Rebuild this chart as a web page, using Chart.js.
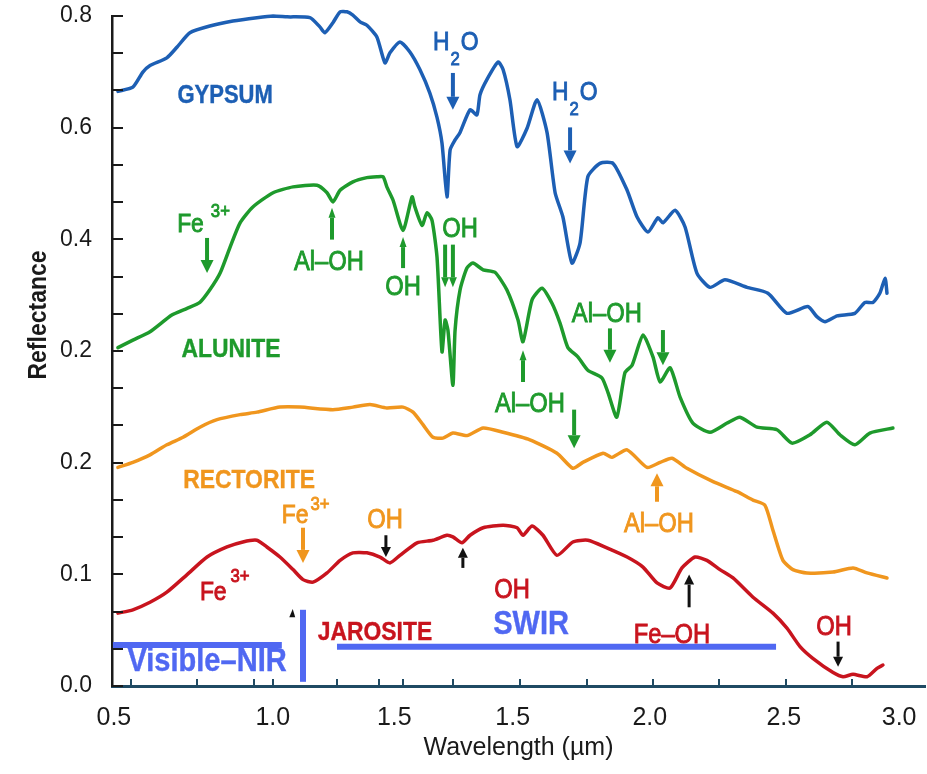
<!DOCTYPE html>
<html>
<head>
<meta charset="utf-8">
<script src="https://cdn.jsdelivr.net/npm/chart.js@4.4.1/dist/chart.umd.min.js"></script>
<style>
  body { margin: 0; background: #fff; }
  canvas { display: block; }
</style>
</head>
<body>
<canvas id="spectra" width="927" height="774"></canvas>
<script>
const gypsum = [[0.503,0.710],[0.551,0.715],[0.583,0.733],[0.606,0.741],[0.660,0.750],[0.693,0.763],[0.734,0.780],[0.798,0.788],[0.872,0.794],[0.949,0.798],[1.001,0.800],[1.046,0.799],[1.119,0.798],[1.151,0.787],[1.167,0.780],[1.193,0.792],[1.216,0.805],[1.238,0.805],[1.257,0.801],[1.280,0.793],[1.302,0.789],[1.334,0.775],[1.360,0.744],[1.376,0.756],[1.408,0.769],[1.440,0.757],[1.472,0.736],[1.504,0.708],[1.527,0.679],[1.543,0.648],[1.559,0.584],[1.569,0.640],[1.585,0.652],[1.601,0.661],[1.633,0.688],[1.655,0.682],[1.665,0.706],[1.687,0.724],[1.723,0.745],[1.739,0.736],[1.761,0.700],[1.784,0.644],[1.816,0.666],[1.848,0.700],[1.880,0.661],[1.906,0.589],[1.931,0.560],[1.960,0.505],[1.986,0.529],[2.011,0.608],[2.050,0.624],[2.092,0.624],[2.137,0.592],[2.169,0.560],[2.204,0.542],[2.236,0.559],[2.252,0.553],[2.291,0.568],[2.323,0.548],[2.361,0.493],[2.403,0.476],[2.451,0.485],[2.522,0.476],[2.589,0.469],[2.650,0.445],[2.717,0.453],[2.746,0.441],[2.772,0.435],[2.811,0.442],[2.868,0.445],[2.900,0.458],[2.926,0.458],[2.948,0.469],[2.965,0.487],[2.971,0.469]];

const alunite = [[0.503,0.404],[0.551,0.413],[0.606,0.423],[0.676,0.443],[0.725,0.451],[0.766,0.458],[0.798,0.473],[0.831,0.493],[0.863,0.524],[0.895,0.553],[0.936,0.572],[1.001,0.589],[1.065,0.596],[1.142,0.598],[1.174,0.589],[1.193,0.578],[1.216,0.592],[1.257,0.602],[1.302,0.607],[1.334,0.608],[1.354,0.608],[1.366,0.596],[1.386,0.580],[1.418,0.544],[1.447,0.584],[1.456,0.572],[1.479,0.550],[1.495,0.565],[1.511,0.556],[1.527,0.512],[1.543,0.399],[1.553,0.437],[1.562,0.425],[1.578,0.359],[1.585,0.425],[1.601,0.473],[1.623,0.499],[1.642,0.505],[1.675,0.497],[1.713,0.494],[1.751,0.473],[1.787,0.437],[1.803,0.411],[1.832,0.461],[1.864,0.475],[1.896,0.457],[1.922,0.433],[1.947,0.404],[1.979,0.393],[2.011,0.377],[2.056,0.368],[2.076,0.350],[2.104,0.321],[2.130,0.374],[2.153,0.383],[2.188,0.419],[2.220,0.393],[2.243,0.363],[2.275,0.380],[2.307,0.345],[2.348,0.314],[2.403,0.303],[2.458,0.314],[2.499,0.321],[2.554,0.309],[2.618,0.306],[2.666,0.290],[2.724,0.300],[2.778,0.315],[2.820,0.300],[2.868,0.288],[2.916,0.302],[2.990,0.308]];

const rectorite = [[0.503,0.261],[0.551,0.267],[0.606,0.276],[0.660,0.288],[0.712,0.297],[0.766,0.309],[0.821,0.318],[0.895,0.324],[0.949,0.327],[1.023,0.333],[1.087,0.333],[1.193,0.330],[1.257,0.333],[1.312,0.336],[1.366,0.332],[1.418,0.333],[1.450,0.327],[1.482,0.312],[1.514,0.297],[1.546,0.296],[1.578,0.302],[1.623,0.299],[1.675,0.308],[1.739,0.303],[1.825,0.294],[1.912,0.278],[1.963,0.260],[1.995,0.267],[2.060,0.278],[2.088,0.273],[2.137,0.282],[2.201,0.261],[2.243,0.267],[2.281,0.272],[2.329,0.260],[2.413,0.244],[2.490,0.232],[2.541,0.222],[2.579,0.216],[2.605,0.186],[2.637,0.150],[2.669,0.139],[2.714,0.135],[2.798,0.136],[2.862,0.141],[2.907,0.135],[2.971,0.129]];

const jarosite = [[0.503,0.087],[0.551,0.091],[0.606,0.100],[0.660,0.112],[0.725,0.133],[0.789,0.154],[0.853,0.166],[0.904,0.172],[0.949,0.174],[0.981,0.166],[1.023,0.154],[1.065,0.139],[1.097,0.127],[1.129,0.124],[1.174,0.135],[1.216,0.150],[1.257,0.159],[1.302,0.159],[1.344,0.154],[1.376,0.147],[1.408,0.156],[1.463,0.171],[1.514,0.174],[1.559,0.180],[1.578,0.178],[1.607,0.171],[1.633,0.180],[1.675,0.189],[1.739,0.192],[1.784,0.189],[1.803,0.180],[1.832,0.191],[1.867,0.180],[1.912,0.156],[1.963,0.172],[2.011,0.174],[2.072,0.165],[2.137,0.154],[2.188,0.142],[2.233,0.123],[2.275,0.117],[2.313,0.141],[2.355,0.154],[2.393,0.150],[2.435,0.139],[2.477,0.129],[2.541,0.106],[2.605,0.087],[2.650,0.069],[2.692,0.047],[2.733,0.033],[2.798,0.016],[2.830,0.011],[2.862,0.014],[2.907,0.011],[2.939,0.021],[2.958,0.025]];

// axis labels as printed on the figure
const xTickPos = [0.49, 1.0, 1.39, 1.77, 2.21, 2.64, 3.01];
const xTickLabels = ['0.5', '1.0', '1.5', '1.5', '2.0', '2.5', '3.0'];
const xTickMarks = [0.545, 0.757, 0.940, 1.001, 1.206, 1.341, 1.418, 1.578, 1.793, 2.008, 2.220, 2.432, 2.647, 2.859];
const yTickLabels = ['0.0', '0.1', '0.2', '0.2', '0.4', '0.6', '0.8'];

const BLUE = '#1d5fb4', GREEN = '#1e9a2c', ORANGE = '#f0961e', RED = '#c8141e', BAR = '#5068f2';
const FONT = '"Liberation Sans", Arial, sans-serif';

// annotation text and arrows (wavelength / reflectance coords)
const notes = [
  {x:0.847, y:0.696, t:'GYPSUM', c:BLUE, s:25, b:true},
  {x:1.514, y:0.759, t:'H', sub:'2', post:'O', c:BLUE, s:26, left:true},
  {x:1.896, y:0.700, t:'H', sub:'2', post:'O', c:BLUE, s:26, left:true},
  {x:0.693, y:0.542, t:'Fe', sup:'3+', gap:7, up:15, c:GREEN, s:26, left:true},
  {x:1.180, y:0.497, t:'Al\u2013OH', c:GREEN, s:27},
  {x:1.418, y:0.467, t:'OH', c:GREEN, s:27},
  {x:1.601, y:0.536, t:'OH', c:GREEN, s:27},
  {x:0.866, y:0.393, t:'ALUNITE', c:GREEN, s:26, b:true},
  {x:2.072, y:0.435, t:'Al\u2013OH', c:GREEN, s:27},
  {x:1.825, y:0.327, t:'Al\u2013OH', c:GREEN, s:27},
  {x:0.924, y:0.236, t:'RECTORITE', c:ORANGE, s:26, b:true},
  {x:1.029, y:0.195, t:'Fe', sup:'3+', gap:2, up:13, c:ORANGE, s:26, left:true},
  {x:1.360, y:0.189, t:'OH', c:ORANGE, s:27},
  {x:2.239, y:0.184, t:'Al\u2013OH', c:ORANGE, s:27},
  {x:0.766, y:0.103, t:'Fe', sup:'3+', gap:4, up:18, c:RED, s:26, left:true},
  {x:1.328, y:0.055, t:'JAROSITE', c:RED, s:26, b:true},
  {x:1.768, y:0.105, t:'OH', c:RED, s:27},
  {x:2.281, y:0.051, t:'Fe\u2013OH', c:RED, s:27},
  {x:2.801, y:0.061, t:'OH', c:RED, s:27},
  {x:1.829, y:0.062, t:'SWIR', c:BAR, s:33, b:true},
  {x:0.789, y:0.018, t:'Visible\u2013NIR', c:BAR, s:33, b:true}
];

const arrows = [
  {x:1.578, from:0.732, to:0.688, c:BLUE},
  {x:1.954, from:0.667, to:0.624, c:BLUE},
  {x:0.789, from:0.535, to:0.493, c:GREEN},
  {x:1.190, from:0.533, to:0.571, c:GREEN, hw:7},
  {x:1.418, from:0.499, to:0.536, c:GREEN, hw:7},
  {x:1.553, from:0.527, to:0.476, c:GREEN, hw:8},
  {x:1.578, from:0.527, to:0.476, c:GREEN, hw:8},
  {x:2.082, from:0.427, to:0.386, c:GREEN},
  {x:2.252, from:0.425, to:0.383, c:GREEN},
  {x:1.803, from:0.363, to:0.401, c:GREEN, hw:7},
  {x:1.967, from:0.330, to:0.284, c:GREEN},
  {x:1.097, from:0.189, to:0.147, c:ORANGE},
  {x:2.233, from:0.220, to:0.254, c:ORANGE},
  {x:1.363, from:0.180, to:0.154, c:'#111', w:3, hw:10},
  {x:1.610, from:0.141, to:0.165, c:'#111', w:3, hw:10},
  {x:2.336, from:0.094, to:0.133, c:'#111', w:3, hw:10},
  {x:2.814, from:0.053, to:0.023, c:'#111', w:3, hw:10}
];

const bars = [
  {x1:0.487, y1:0.049, x2:1.029, y2:0.049},
  {x1:1.097, y1:0.005, x2:1.097, y2:0.091},
  {x1:1.206, y1:0.047, x2:2.615, y2:0.047}
];

function txt(ctx, str, x, y, size, bold, color, align) {
  ctx.save();
  ctx.font = (bold ? 'bold ' : '') + size + 'px ' + FONT;
  ctx.fillStyle = color;
  ctx.strokeStyle = color;
  ctx.lineWidth = bold ? 0.4 : 0.9;
  ctx.textAlign = align;
  ctx.textBaseline = 'alphabetic';
  ctx.translate(x, y);
  ctx.scale(0.88, 1);
  ctx.fillText(str, 0, 0);
  ctx.strokeText(str, 0, 0);
  const w = ctx.measureText(str).width * 0.88;
  ctx.restore();
  return w;
}

const inwardTicks = {
  id: 'inwardTicks',
  afterDraw(chart) {
    const ctx = chart.ctx, xs = chart.scales.x, ys = chart.scales.y;
    const area = chart.chartArea;
    ctx.save();
    ctx.lineWidth = 2;
    ctx.strokeStyle = '#1a1a1a';
    ys.ticks.forEach(t => {
      const p = Math.round(ys.getPixelForValue(t.value));
      ctx.beginPath();
      ctx.moveTo(area.left, p);
      ctx.lineTo(area.left + 11, p);
      ctx.stroke();
    });
    ctx.strokeStyle = '#1f4a63';
    xTickMarks.forEach(v => {
      const p = Math.round(xs.getPixelForValue(v));
      ctx.beginPath();
      ctx.moveTo(p, area.bottom);
      ctx.lineTo(p, area.bottom - 7);
      ctx.stroke();
    });
    // y title, sits above the middle of the axis on the figure
    ctx.save();
    ctx.translate(39, ys.getPixelForValue(0.443));
    ctx.rotate(-Math.PI / 2);
    ctx.font = 'bold 25px ' + FONT;
    ctx.fillStyle = '#1a1a1a';
    ctx.textAlign = 'center';
    ctx.textBaseline = 'middle';
    ctx.scale(0.92, 1);
    ctx.fillText('Reflectance', 0, 0);
    ctx.restore();
    ctx.restore();
  }
};

const notesPlugin = {
  id: 'notes',
  afterDatasetsDraw(chart) {
    const ctx = chart.ctx, xs = chart.scales.x, ys = chart.scales.y;
    const X = v => xs.getPixelForValue(v), Y = v => ys.getPixelForValue(v);

    // region bars
    ctx.save();
    ctx.strokeStyle = BAR;
    ctx.lineWidth = 6;
    bars.forEach(b => {
      ctx.beginPath();
      ctx.moveTo(X(b.x1), Y(b.y1));
      ctx.lineTo(X(b.x2), Y(b.y2));
      ctx.stroke();
    });
    ctx.restore();

    // arrows
    arrows.forEach(a => {
      const x = X(a.x), y1 = Y(a.from), y2 = Y(a.to);
      const dir = y2 > y1 ? 1 : -1;
      const hl = a.hw ? 10 : 13, hw = a.hw || 13;
      ctx.save();
      ctx.strokeStyle = a.c;
      ctx.fillStyle = a.c;
      ctx.lineWidth = a.w || 4;
      ctx.beginPath();
      ctx.moveTo(x, y1);
      ctx.lineTo(x, y2 - dir * hl);
      ctx.stroke();
      ctx.beginPath();
      ctx.moveTo(x - hw / 2, y2 - dir * hl);
      ctx.lineTo(x + hw / 2, y2 - dir * hl);
      ctx.lineTo(x, y2);
      ctx.closePath();
      ctx.fill();
      ctx.restore();
    });

    // tiny black mark near the vertical bar
    ctx.save();
    ctx.fillStyle = '#111';
    ctx.beginPath();
    ctx.moveTo(X(1.053), Y(0.082));
    ctx.lineTo(X(1.064), Y(0.092));
    ctx.lineTo(X(1.072), Y(0.082));
    ctx.closePath();
    ctx.fill();
    ctx.restore();

    // labels
    notes.forEach(n => {
      const x = X(n.x), y = Y(n.y);
      if (!n.left) {
        txt(ctx, n.t, x, y, n.s, n.b, n.c, 'center');
        return;
      }
      let w = txt(ctx, n.t, x, y, n.s, n.b, n.c, 'left');
      if (n.sup) {
        txt(ctx, n.sup, x + w + n.gap, y - n.up, Math.round(n.s * 0.72), false, n.c, 'left');
      }
      if (n.sub) {
        const w2 = txt(ctx, n.sub, x + w + 1, y + 15, Math.round(n.s * 0.72), false, n.c, 'left');
        txt(ctx, n.post, x + w + w2 + 2, y, n.s, n.b, n.c, 'left');
      }
    });
  }
};

function series(data, color) {
  return {
    data: data,
    borderColor: color,
    borderWidth: 3.5,
    pointRadius: 0,
    tension: 0.2,
    clip: false,
    borderJoinStyle: 'round',
    borderCapStyle: 'round'
  };
}

const chart = new Chart(document.getElementById('spectra'), {
  type: 'line',
  data: {
    datasets: [
      series(gypsum, BLUE),
      series(alunite, GREEN),
      series(rectorite, ORANGE),
      series(jarosite, RED)
    ]
  },
  options: {
    responsive: false,
    animation: false,
    layout: { padding: { top: 16, right: 2, left: 0, bottom: 0 } },
    plugins: { legend: { display: false }, tooltip: { enabled: false } },
    scales: {
      x: {
        type: 'linear',
        min: 0.484,
        max: 3.093,
        afterFit: s => { s.height = 88; s.paddingLeft = 0; s.paddingRight = 0; },
        afterBuildTicks: s => { s.ticks = xTickPos.map(v => ({ value: v })); },
        grid: { display: true, drawOnChartArea: false, drawTicks: false, color: 'rgba(0,0,0,0)' },
        border: { display: true, color: '#1f4a63', width: 3 },
        ticks: {
          autoSkip: false,
          maxRotation: 0,
          padding: 17,
          color: '#1a1a1a',
          font: { family: FONT, size: 25 },
          callback: (v, i) => xTickLabels[i]
        },
        title: {
          display: true,
          text: 'Wavelength (\u00b5m)',
          color: '#1a1a1a',
          font: { family: FONT, size: 25 },
          padding: { top: 0, bottom: 11 }
        }
      },
      y: {
        type: 'linear',
        min: 0,
        max: 0.8,
        afterFit: s => { s.width = 112; s.paddingTop = 0; s.paddingBottom = 0; },
        afterBuildTicks: s => {
          const t = [];
          for (let i = 0; i <= 18; i++) t.push({ value: i * 0.8 / 18 });
          s.ticks = t;
        },
        grid: { display: true, drawOnChartArea: false, drawTicks: false, color: 'rgba(0,0,0,0)' },
        border: { display: true, color: '#1a1a1a', width: 2.5 },
        ticks: {
          autoSkip: false,
          padding: 20,
          color: '#1a1a1a',
          font: { family: FONT, size: 23 },
          callback: (v, i) => (i % 3 === 0 ? yTickLabels[i / 3] : '')
        },
        title: { display: false }
      }
    }
  },
  plugins: [inwardTicks, notesPlugin]
});
</script>
</body>
</html>
